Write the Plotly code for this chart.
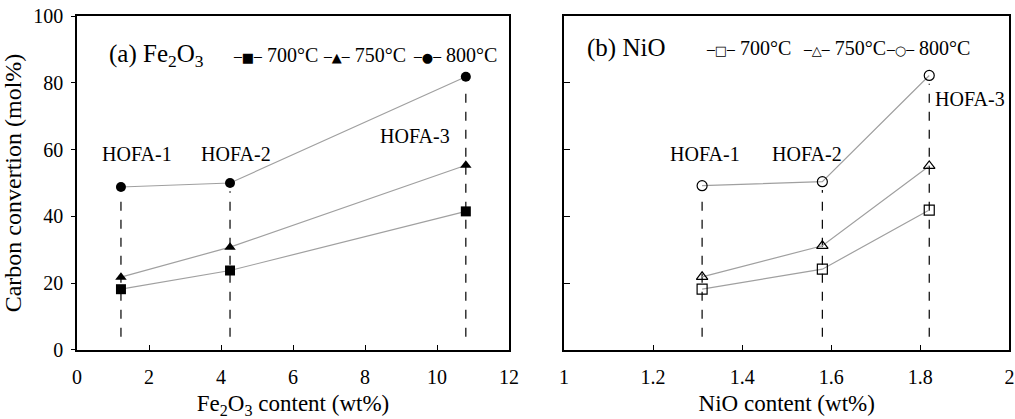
import plotly.graph_objects as go

# ---- data ----
labels = ["HOFA-1", "HOFA-2", "HOFA-3"]
temps = ["700°C", "750°C", "800°C"]

fe2o3_content = [1.22, 4.25, 10.8]
fe_700 = [18.2, 23.8, 41.5]
fe_750 = [21.8, 30.8, 55.3]
fe_800 = [48.8, 50.0, 81.8]

nio_content = [1.31, 1.58, 1.82]
ni_700 = [18.2, 24.2, 41.9]
ni_750 = [21.9, 31.2, 55.1]
ni_800 = [49.2, 50.4, 82.2]

guide_bottom = 4.0

# HOFA label anchor positions
fe_label_x = [1.67, 4.42, 9.39]
fe_label_y = [58.7, 58.7, 64.1]
ni_label_x = [1.317, 1.546, 1.912]
ni_label_y = [58.7, 58.7, 75.1]

# legend entry anchors (data coords of each panel)
fe_leg_x = [4.28, 6.78, 9.28]
fe_leg_y = 88.3
ni_leg_x = [1.3146, 1.5326, 1.719]
ni_leg_y = 90.3

FONT = "Liberation Serif"
GRAY = "#a0a0a0"

fig = go.Figure()

# dashed guides
for xs, tops, xa, ya in [(fe2o3_content, fe_800, "x", "y"), (nio_content, ni_800, "x2", "y2")]:
    for xv, top in zip(xs, tops):
        fig.add_trace(go.Scatter(
            x=[xv, xv], y=[guide_bottom, top - 2.5], mode="lines",
            line=dict(color="black", width=1.2, dash="dash"),
            xaxis=xa, yaxis=ya, showlegend=False, hoverinfo="skip"))

symbols_fill = ["square", "triangle-up", "circle"]
symbols_open = ["square-open", "triangle-up-open", "circle-open"]
glyph_fill = ["■", "▲", "●"]
glyph_open = ["□", "△", "○"]

for series, sym, name in zip([fe_700, fe_750, fe_800], symbols_fill, temps):
    fig.add_trace(go.Scatter(
        x=fe2o3_content, y=series, mode="lines+markers", name=name,
        line=dict(color=GRAY, width=1.2),
        marker=dict(symbol=sym, size=10, color="black"),
        xaxis="x", yaxis="y", showlegend=False))

for series, sym, name in zip([ni_700, ni_750, ni_800], symbols_open, temps):
    fig.add_trace(go.Scatter(
        x=nio_content, y=series, mode="lines+markers", name=name,
        line=dict(color=GRAY, width=1.2),
        marker=dict(symbol=sym, size=10, color="black", line=dict(width=1.2)),
        xaxis="x2", yaxis="y2", showlegend=False))

lab_font = dict(family=FONT, size=20, color="black")
annotations = []
for lab, xv, yv in zip(labels, fe_label_x, fe_label_y):
    annotations.append(dict(x=xv, y=yv, xref="x", yref="y", text=lab,
                            showarrow=False, font=lab_font))
for lab, xv, yv in zip(labels, ni_label_x, ni_label_y):
    annotations.append(dict(x=xv, y=yv, xref="x2", yref="y2", text=lab,
                            showarrow=False, font=lab_font))

annotations.append(dict(x=0.83, y=fe_leg_y, xref="x", yref="y",
                        text="(a) Fe<sub>2</sub>O<sub>3</sub>",
                        showarrow=False, xanchor="left",
                        font=dict(family=FONT, size=25, color="black")))
annotations.append(dict(x=1.047, y=ni_leg_y, xref="x2", yref="y2", text="(b) NiO",
                        showarrow=False, xanchor="left",
                        font=dict(family=FONT, size=25, color="black")))

# legend entries
def leg_text(g, t):
    return (f'<span style="font-family:DejaVu Sans;font-size:13px">─{g}─</span>'
            f' {t}')

for xv, g, t in zip(fe_leg_x, glyph_fill, temps):
    annotations.append(dict(
        x=xv, y=fe_leg_y, xref="x", yref="y", showarrow=False, xanchor="left",
        text=leg_text(g, t), font=dict(family=FONT, size=20, color="black")))
for xv, g, t in zip(ni_leg_x, glyph_open, temps):
    annotations.append(dict(
        x=xv, y=ni_leg_y, xref="x2", yref="y2", showarrow=False, xanchor="left",
        text=leg_text(g, t), font=dict(family=FONT, size=20, color="black")))

axis_common = dict(showline=True, linecolor="black", linewidth=1.5, mirror=True,
                   showgrid=False, zeroline=False, automargin=False,
                   tickfont=dict(family=FONT, size=20, color="black"),
                   tickcolor="black", tickwidth=1)

fig.update_layout(
    width=1015, height=419,
    margin=dict(l=0, r=0, t=0, b=0),
    plot_bgcolor="white", paper_bgcolor="white",
    font=dict(family=FONT, color="black"),
    xaxis=dict(domain=[0.0759, 0.5015], range=[0, 12], dtick=2, ticks="inside",
               ticklen=5, ticklabelstandoff=8,
               title=dict(text="Fe<sub>2</sub>O<sub>3</sub> content (wt%)",
                          font=dict(family=FONT, size=23), standoff=8),
               anchor="y", **axis_common),
    yaxis=dict(domain=[0.1647, 0.9618], range=[0, 100], dtick=20, ticks="outside",
               ticklen=4, ticklabelstandoff=4,
               title=dict(text="Carbon convertion (mol%)",
                          font=dict(family=FONT, size=24), standoff=10),
               anchor="x", **axis_common),
    xaxis2=dict(domain=[0.5557, 0.9945], range=[1, 2], dtick=0.2, ticks="inside",
                ticklen=5, ticklabelstandoff=8,
                title=dict(text="NiO content (wt%)",
                           font=dict(family=FONT, size=23), standoff=8),
                anchor="y2", **axis_common),
    yaxis2=dict(domain=[0.1647, 0.9618], range=[0, 100], dtick=20, ticks="inside",
                ticklen=6, showticklabels=False, anchor="x2", **axis_common),
    showlegend=False,
    annotations=annotations,
)

fig.write_html("out.html", config={"displayModeBar": False},
               post_script="document.body.style.margin='0px';document.body.style.overflow='hidden';")
